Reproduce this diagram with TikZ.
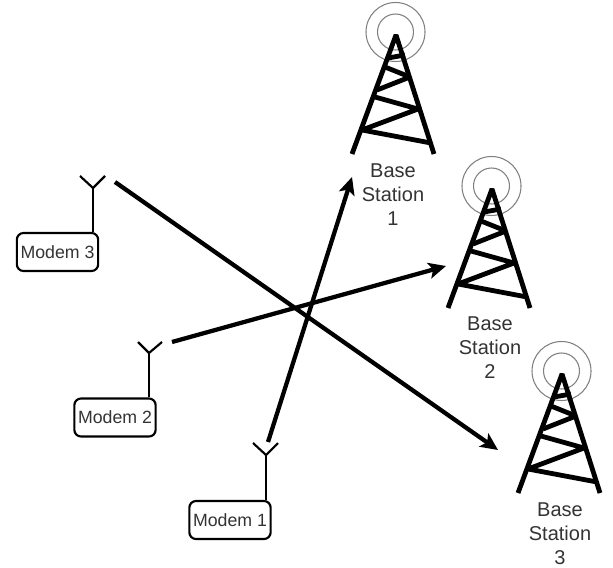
\documentclass[tikz,border=0pt]{standalone}
\usepackage{fontspec}
\setmainfont{Liberation Sans}
\usetikzlibrary{arrows.meta}
\tikzset{
    modem/.style={draw, line width=1.6pt, rounded corners=5pt, minimum width=61pt, minimum height=28.5pt, inner sep=0pt, font=\fontsize{13.3}{16}\selectfont, text=black!80},
    station/.style={align=center, inner sep=0pt, font=\fontsize{15}{18}\selectfont, text=black!80},
    mast/.style={line width=1.6pt},
    signal/.style={line width=3.2pt, -{Stealth[length=13pt,width=12pt,inset=3pt]}},
    ring/.style={draw=black!50, line width=.8pt},
    truss/.style={line width=3.6pt, line cap=butt, line join=bevel},
    tower/.pic={
        \draw [ring] (-0.5,-1) circle [radius=18];
        \draw [ring] (-0.5,-1) circle [radius=29.5];
        \draw [truss] (-44,121) -- (0,2) -- (38,121);
        \draw [truss] (-8,25) -- (9,22);
        \draw [truss] (-11,34) -- (14,44) -- (-19,57);
        \draw [truss] (-21,64) -- (22,76) -- (-34,97) -- (35,110);
    }
}

\begin{document}
\begin{tikzpicture}[x=.75pt, y=-.75pt]
        \useasboundingbox (0,0) rectangle (613,567);
        \pic at (396,33) {tower};
        \pic at (492,187) {tower};
        \pic at (562,372) {tower};
        \node (b1) [station] at (393,195) {Base\\Station\\1};
        \node (b2) [station] at (490,348) {Base\\Station\\2};
        \node (b3) [station] at (560,534) {Base\\Station\\3};
        \node (m3) [modem] at (57.5,252) {Modem 3};
        \node (m2) [modem] at (115,417.5) {Modem 2};
        \node (m1) [modem] at (230,520) {Modem 1};
        \coordinate (a3) at (93,188);
        \coordinate (a2) at (149,353);
        \coordinate (a1) at (266,455);
        \coordinate (l3) at (80,176);
        \coordinate (r3) at (105,176);
        \coordinate (l2) at (138,342);
        \coordinate (r2) at (162,342);
        \coordinate (l1) at (253,443);
        \coordinate (r1) at (278,443);
        \draw [mast] (m3.north -| a3) -- (a3);
        \draw [mast] (m2.north -| a2) -- (a2);
        \draw [mast] (m1.north -| a1) -- (a1);
        \draw [mast] (l3) -- (a3) -- (r3);
        \draw [mast] (l2) -- (a2) -- (r2);
        \draw [mast] (l1) -- (a1) -- (r1);
        \coordinate (s3) at (115,182);
        \coordinate (t3) at (498,450);
        \coordinate (s2) at (172,342);
        \coordinate (t2) at (446,266);
        \coordinate (s1) at (268,442);
        \coordinate (t1) at (352,177);
        \draw [signal] (s3) -- (t3);
        \draw [signal] (s2) -- (t2);
        \draw [signal] (s1) -- (t1);
\end{tikzpicture}
\end{document}
